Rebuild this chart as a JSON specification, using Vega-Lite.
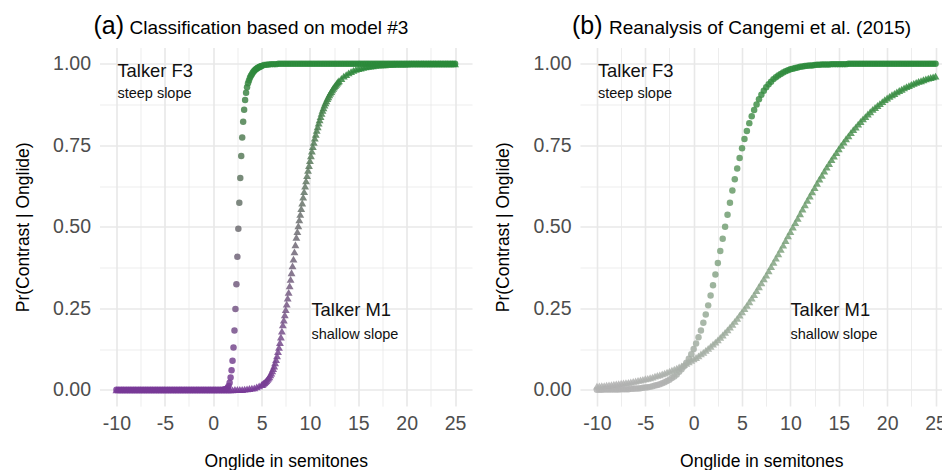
{
  "$schema": "https://vega.github.io/schema/vega-lite/v6.json",
  "background": "white",
  "padding": {"left": 13.5, "top": 13.5, "right": 0, "bottom": 0},
  "config": {
    "view": {"stroke": null},
    "font": "Liberation Sans",
    "title": {"anchor": "start", "frame": "group", "fontWeight": "normal", "color": "#000000"},
    "axis": {"domain": false, "ticks": false, "labelFontSize": 19.5, "labelColor": "#4d4d4d", "labelOverlap": false, "labelFlush": false, "titleFontSize": 17.5, "titleFontWeight": "normal", "titleColor": "#000000", "gridColor": "#e8e8e8"},
    "axisX": {"labelPadding": 8, "titlePadding": 20},
    "axisY": {"labelPadding": 9, "titlePadding": 20.5}
  },
  "data": {
    "values": "p,s,x,y\na,F3,-10,0\na,F3,-9.75,0\na,F3,-9.5,0\na,F3,-9.25,0\na,F3,-9,0\na,F3,-8.75,0\na,F3,-8.5,0\na,F3,-8.25,0\na,F3,-8,0\na,F3,-7.75,0\na,F3,-7.5,0\na,F3,-7.25,0\na,F3,-7,0\na,F3,-6.75,0\na,F3,-6.5,0\na,F3,-6.25,0\na,F3,-6,0\na,F3,-5.75,0\na,F3,-5.5,0\na,F3,-5.25,0\na,F3,-5,0\na,F3,-4.75,0\na,F3,-4.5,0\na,F3,-4.25,0\na,F3,-4,0\na,F3,-3.75,0\na,F3,-3.5,0\na,F3,-3.25,0\na,F3,-3,0\na,F3,-2.75,0\na,F3,-2.5,0\na,F3,-2.25,0\na,F3,-2,0\na,F3,-1.75,0\na,F3,-1.5,0\na,F3,-1.25,0\na,F3,-1,0\na,F3,-0.75,0\na,F3,-0.5,0\na,F3,-0.25,0\na,F3,0,0\na,F3,0.25,0\na,F3,0.5,0\na,F3,0.75,0\na,F3,1,0\na,F3,1.1,0\na,F3,1.2,0.001\na,F3,1.3,0.002\na,F3,1.4,0.003\na,F3,1.5,0.006\na,F3,1.6,0.012\na,F3,1.7,0.022\na,F3,1.8,0.038\na,F3,1.9,0.06\na,F3,2,0.089\na,F3,2.1,0.13\na,F3,2.2,0.182\na,F3,2.3,0.248\na,F3,2.4,0.324\na,F3,2.5,0.408\na,F3,2.6,0.494\na,F3,2.7,0.574\na,F3,2.8,0.65\na,F3,2.9,0.717\na,F3,3,0.774\na,F3,3.1,0.822\na,F3,3.2,0.859\na,F3,3.3,0.889\na,F3,3.4,0.911\na,F3,3.5,0.928\na,F3,3.6,0.94\na,F3,3.7,0.949\na,F3,3.8,0.957\na,F3,3.9,0.963\na,F3,4,0.968\na,F3,4.1,0.973\na,F3,4.2,0.977\na,F3,4.3,0.98\na,F3,4.4,0.983\na,F3,4.5,0.985\na,F3,4.6,0.988\na,F3,4.7,0.989\na,F3,4.8,0.991\na,F3,4.9,0.992\na,F3,5,0.993\na,F3,5.25,0.996\na,F3,5.5,0.997\na,F3,5.75,0.998\na,F3,6,0.999\na,F3,6.25,0.999\na,F3,6.5,0.999\na,F3,6.75,1\na,F3,7,1\na,F3,7.25,1\na,F3,7.5,1\na,F3,7.75,1\na,F3,8,1\na,F3,8.25,1\na,F3,8.5,1\na,F3,8.75,1\na,F3,9,1\na,F3,9.25,1\na,F3,9.5,1\na,F3,9.75,1\na,F3,10,1\na,F3,10.25,1\na,F3,10.5,1\na,F3,10.75,1\na,F3,11,1\na,F3,11.25,1\na,F3,11.5,1\na,F3,11.75,1\na,F3,12,1\na,F3,12.25,1\na,F3,12.5,1\na,F3,12.75,1\na,F3,13,1\na,F3,13.25,1\na,F3,13.5,1\na,F3,13.75,1\na,F3,14,1\na,F3,14.25,1\na,F3,14.5,1\na,F3,14.75,1\na,F3,15,1\na,F3,15.25,1\na,F3,15.5,1\na,F3,15.75,1\na,F3,16,1\na,F3,16.25,1\na,F3,16.5,1\na,F3,16.75,1\na,F3,17,1\na,F3,17.25,1\na,F3,17.5,1\na,F3,17.75,1\na,F3,18,1\na,F3,18.25,1\na,F3,18.5,1\na,F3,18.75,1\na,F3,19,1\na,F3,19.25,1\na,F3,19.5,1\na,F3,19.75,1\na,F3,20,1\na,F3,20.25,1\na,F3,20.5,1\na,F3,20.75,1\na,F3,21,1\na,F3,21.25,1\na,F3,21.5,1\na,F3,21.75,1\na,F3,22,1\na,F3,22.25,1\na,F3,22.5,1\na,F3,22.75,1\na,F3,23,1\na,F3,23.25,1\na,F3,23.5,1\na,F3,23.75,1\na,F3,24,1\na,F3,24.25,1\na,F3,24.5,1\na,F3,24.75,1\na,F3,25,1\na,M1,-10,0\na,M1,-9.75,0\na,M1,-9.5,0\na,M1,-9.25,0\na,M1,-9,0\na,M1,-8.75,0\na,M1,-8.5,0\na,M1,-8.25,0\na,M1,-8,0\na,M1,-7.75,0\na,M1,-7.5,0\na,M1,-7.25,0\na,M1,-7,0\na,M1,-6.75,0\na,M1,-6.5,0\na,M1,-6.25,0\na,M1,-6,0\na,M1,-5.75,0\na,M1,-5.5,0\na,M1,-5.25,0\na,M1,-5,0\na,M1,-4.75,0\na,M1,-4.5,0\na,M1,-4.25,0\na,M1,-4,0\na,M1,-3.75,0\na,M1,-3.5,0\na,M1,-3.25,0\na,M1,-3,0\na,M1,-2.75,0\na,M1,-2.5,0\na,M1,-2.25,0\na,M1,-2,0\na,M1,-1.75,0\na,M1,-1.5,0\na,M1,-1.25,0\na,M1,-1,0\na,M1,-0.75,0\na,M1,-0.5,0\na,M1,-0.25,0\na,M1,0,0\na,M1,0.25,0\na,M1,0.5,0\na,M1,0.75,0\na,M1,1,0\na,M1,1.25,0\na,M1,1.5,0\na,M1,1.75,0\na,M1,2,0\na,M1,2.25,0.001\na,M1,2.5,0.001\na,M1,2.75,0.001\na,M1,3,0.001\na,M1,3.25,0.002\na,M1,3.5,0.003\na,M1,3.75,0.004\na,M1,4,0.005\na,M1,4.25,0.006\na,M1,4.5,0.009\na,M1,4.75,0.012\na,M1,5,0.016\na,M1,5.1,0.017\na,M1,5.2,0.02\na,M1,5.3,0.022\na,M1,5.4,0.025\na,M1,5.5,0.028\na,M1,5.6,0.032\na,M1,5.7,0.036\na,M1,5.8,0.04\na,M1,5.9,0.046\na,M1,6,0.051\na,M1,6.1,0.058\na,M1,6.2,0.065\na,M1,6.3,0.073\na,M1,6.4,0.083\na,M1,6.5,0.093\na,M1,6.6,0.104\na,M1,6.7,0.117\na,M1,6.8,0.13\na,M1,6.9,0.145\na,M1,7,0.162\na,M1,7.1,0.18\na,M1,7.2,0.199\na,M1,7.3,0.214\na,M1,7.4,0.23\na,M1,7.5,0.246\na,M1,7.6,0.263\na,M1,7.7,0.281\na,M1,7.8,0.299\na,M1,7.9,0.319\na,M1,8,0.339\na,M1,8.1,0.359\na,M1,8.2,0.38\na,M1,8.3,0.401\na,M1,8.4,0.423\na,M1,8.5,0.445\na,M1,8.6,0.468\na,M1,8.7,0.485\na,M1,8.8,0.503\na,M1,8.9,0.521\na,M1,9,0.538\na,M1,9.1,0.556\na,M1,9.2,0.573\na,M1,9.3,0.591\na,M1,9.4,0.608\na,M1,9.5,0.625\na,M1,9.6,0.641\na,M1,9.7,0.657\na,M1,9.8,0.673\na,M1,9.9,0.688\na,M1,10,0.703\na,M1,10.1,0.718\na,M1,10.2,0.732\na,M1,10.3,0.746\na,M1,10.4,0.759\na,M1,10.5,0.772\na,M1,10.6,0.784\na,M1,10.7,0.796\na,M1,10.8,0.807\na,M1,10.9,0.818\na,M1,11,0.828\na,M1,11.1,0.838\na,M1,11.2,0.848\na,M1,11.3,0.857\na,M1,11.4,0.865\na,M1,11.5,0.873\na,M1,11.6,0.88\na,M1,11.7,0.886\na,M1,11.8,0.893\na,M1,11.9,0.899\na,M1,12,0.905\na,M1,12.1,0.91\na,M1,12.2,0.915\na,M1,12.3,0.92\na,M1,12.4,0.925\na,M1,12.5,0.929\na,M1,12.6,0.933\na,M1,12.7,0.937\na,M1,12.8,0.941\na,M1,12.9,0.945\na,M1,13,0.948\na,M1,13.25,0.955\na,M1,13.5,0.962\na,M1,13.75,0.967\na,M1,14,0.972\na,M1,14.25,0.976\na,M1,14.5,0.98\na,M1,14.75,0.983\na,M1,15,0.985\na,M1,15.25,0.987\na,M1,15.5,0.989\na,M1,15.75,0.991\na,M1,16,0.992\na,M1,16.25,0.993\na,M1,16.5,0.994\na,M1,16.75,0.995\na,M1,17,0.996\na,M1,17.25,0.997\na,M1,17.5,0.997\na,M1,17.75,0.997\na,M1,18,0.998\na,M1,18.25,0.998\na,M1,18.5,0.998\na,M1,18.75,0.999\na,M1,19,0.999\na,M1,19.25,0.999\na,M1,19.5,0.999\na,M1,19.75,0.999\na,M1,20,0.999\na,M1,20.25,1\na,M1,20.5,1\na,M1,20.75,1\na,M1,21,1\na,M1,21.25,1\na,M1,21.5,1\na,M1,21.75,1\na,M1,22,1\na,M1,22.25,1\na,M1,22.5,1\na,M1,22.75,1\na,M1,23,1\na,M1,23.25,1\na,M1,23.5,1\na,M1,23.75,1\na,M1,24,1\na,M1,24.25,1\na,M1,24.5,1\na,M1,24.75,1\na,M1,25,1\nb,F3,-10,0\nb,F3,-9.75,0\nb,F3,-9.5,0\nb,F3,-9.25,0.001\nb,F3,-9,0.001\nb,F3,-8.75,0.001\nb,F3,-8.5,0.001\nb,F3,-8.25,0.001\nb,F3,-8,0.001\nb,F3,-7.75,0.001\nb,F3,-7.5,0.002\nb,F3,-7.25,0.002\nb,F3,-7,0.002\nb,F3,-6.75,0.002\nb,F3,-6.5,0.003\nb,F3,-6.25,0.003\nb,F3,-6,0.004\nb,F3,-5.75,0.004\nb,F3,-5.5,0.005\nb,F3,-5.25,0.006\nb,F3,-5,0.007\nb,F3,-4.75,0.008\nb,F3,-4.5,0.009\nb,F3,-4.25,0.011\nb,F3,-4,0.013\nb,F3,-3.75,0.015\nb,F3,-3.5,0.017\nb,F3,-3.25,0.02\nb,F3,-3,0.023\nb,F3,-2.75,0.027\nb,F3,-2.5,0.031\nb,F3,-2.25,0.036\nb,F3,-2,0.041\nb,F3,-1.75,0.047\nb,F3,-1.5,0.055\nb,F3,-1.25,0.063\nb,F3,-1,0.072\nb,F3,-0.75,0.083\nb,F3,-0.5,0.095\nb,F3,-0.25,0.109\nb,F3,0,0.125\nb,F3,0.25,0.142\nb,F3,0.5,0.161\nb,F3,0.75,0.182\nb,F3,1,0.206\nb,F3,1.25,0.231\nb,F3,1.5,0.259\nb,F3,1.75,0.289\nb,F3,2,0.321\nb,F3,2.25,0.354\nb,F3,2.5,0.389\nb,F3,2.75,0.426\nb,F3,3,0.463\nb,F3,3.25,0.5\nb,F3,3.5,0.537\nb,F3,3.75,0.574\nb,F3,4,0.611\nb,F3,4.25,0.646\nb,F3,4.5,0.679\nb,F3,4.75,0.711\nb,F3,5,0.741\nb,F3,5.25,0.769\nb,F3,5.5,0.794\nb,F3,5.75,0.818\nb,F3,6,0.839\nb,F3,6.25,0.858\nb,F3,6.5,0.875\nb,F3,6.75,0.891\nb,F3,7,0.905\nb,F3,7.25,0.917\nb,F3,7.5,0.928\nb,F3,7.75,0.937\nb,F3,8,0.945\nb,F3,8.25,0.953\nb,F3,8.5,0.959\nb,F3,8.75,0.964\nb,F3,9,0.969\nb,F3,9.25,0.973\nb,F3,9.5,0.977\nb,F3,9.75,0.98\nb,F3,10,0.983\nb,F3,10.25,0.985\nb,F3,10.5,0.987\nb,F3,10.75,0.989\nb,F3,11,0.991\nb,F3,11.25,0.992\nb,F3,11.5,0.993\nb,F3,11.75,0.994\nb,F3,12,0.995\nb,F3,12.25,0.995\nb,F3,12.5,0.996\nb,F3,12.75,0.997\nb,F3,13,0.997\nb,F3,13.25,0.998\nb,F3,13.5,0.998\nb,F3,13.75,0.998\nb,F3,14,0.998\nb,F3,14.25,0.999\nb,F3,14.5,0.999\nb,F3,14.75,0.999\nb,F3,15,0.999\nb,F3,15.25,0.999\nb,F3,15.5,0.999\nb,F3,15.75,0.999\nb,F3,16,1\nb,F3,16.25,1\nb,F3,16.5,1\nb,F3,16.75,1\nb,F3,17,1\nb,F3,17.25,1\nb,F3,17.5,1\nb,F3,17.75,1\nb,F3,18,1\nb,F3,18.25,1\nb,F3,18.5,1\nb,F3,18.75,1\nb,F3,19,1\nb,F3,19.25,1\nb,F3,19.5,1\nb,F3,19.75,1\nb,F3,20,1\nb,F3,20.25,1\nb,F3,20.5,1\nb,F3,20.75,1\nb,F3,21,1\nb,F3,21.25,1\nb,F3,21.5,1\nb,F3,21.75,1\nb,F3,22,1\nb,F3,22.25,1\nb,F3,22.5,1\nb,F3,22.75,1\nb,F3,23,1\nb,F3,23.25,1\nb,F3,23.5,1\nb,F3,23.75,1\nb,F3,24,1\nb,F3,24.25,1\nb,F3,24.5,1\nb,F3,24.75,1\nb,F3,25,1\nb,M1,-10,0.011\nb,M1,-9.75,0.012\nb,M1,-9.5,0.013\nb,M1,-9.25,0.013\nb,M1,-9,0.014\nb,M1,-8.75,0.015\nb,M1,-8.5,0.016\nb,M1,-8.25,0.017\nb,M1,-8,0.018\nb,M1,-7.75,0.019\nb,M1,-7.5,0.02\nb,M1,-7.25,0.021\nb,M1,-7,0.022\nb,M1,-6.75,0.023\nb,M1,-6.5,0.024\nb,M1,-6.25,0.026\nb,M1,-6,0.027\nb,M1,-5.75,0.029\nb,M1,-5.5,0.03\nb,M1,-5.25,0.032\nb,M1,-5,0.034\nb,M1,-4.75,0.035\nb,M1,-4.5,0.037\nb,M1,-4.25,0.039\nb,M1,-4,0.042\nb,M1,-3.75,0.044\nb,M1,-3.5,0.046\nb,M1,-3.25,0.049\nb,M1,-3,0.051\nb,M1,-2.75,0.054\nb,M1,-2.5,0.057\nb,M1,-2.25,0.06\nb,M1,-2,0.063\nb,M1,-1.75,0.066\nb,M1,-1.5,0.07\nb,M1,-1.25,0.073\nb,M1,-1,0.077\nb,M1,-0.75,0.081\nb,M1,-0.5,0.086\nb,M1,-0.25,0.09\nb,M1,0,0.095\nb,M1,0.25,0.099\nb,M1,0.5,0.104\nb,M1,0.75,0.11\nb,M1,1,0.115\nb,M1,1.25,0.121\nb,M1,1.5,0.127\nb,M1,1.75,0.133\nb,M1,2,0.14\nb,M1,2.25,0.146\nb,M1,2.5,0.153\nb,M1,2.75,0.161\nb,M1,3,0.168\nb,M1,3.25,0.176\nb,M1,3.5,0.184\nb,M1,3.75,0.192\nb,M1,4,0.201\nb,M1,4.25,0.21\nb,M1,4.5,0.219\nb,M1,4.75,0.229\nb,M1,5,0.239\nb,M1,5.25,0.249\nb,M1,5.5,0.259\nb,M1,5.75,0.27\nb,M1,6,0.281\nb,M1,6.25,0.292\nb,M1,6.5,0.304\nb,M1,6.75,0.316\nb,M1,7,0.328\nb,M1,7.25,0.34\nb,M1,7.5,0.352\nb,M1,7.75,0.365\nb,M1,8,0.378\nb,M1,8.25,0.391\nb,M1,8.5,0.404\nb,M1,8.75,0.417\nb,M1,9,0.431\nb,M1,9.25,0.444\nb,M1,9.5,0.458\nb,M1,9.75,0.472\nb,M1,10,0.485\nb,M1,10.25,0.499\nb,M1,10.5,0.513\nb,M1,10.75,0.526\nb,M1,11,0.54\nb,M1,11.25,0.554\nb,M1,11.5,0.567\nb,M1,11.75,0.581\nb,M1,12,0.594\nb,M1,12.25,0.607\nb,M1,12.5,0.62\nb,M1,12.75,0.633\nb,M1,13,0.646\nb,M1,13.25,0.658\nb,M1,13.5,0.671\nb,M1,13.75,0.683\nb,M1,14,0.694\nb,M1,14.25,0.706\nb,M1,14.5,0.717\nb,M1,14.75,0.728\nb,M1,15,0.739\nb,M1,15.25,0.75\nb,M1,15.5,0.76\nb,M1,15.75,0.77\nb,M1,16,0.779\nb,M1,16.25,0.789\nb,M1,16.5,0.798\nb,M1,16.75,0.806\nb,M1,17,0.815\nb,M1,17.25,0.823\nb,M1,17.5,0.831\nb,M1,17.75,0.838\nb,M1,18,0.846\nb,M1,18.25,0.853\nb,M1,18.5,0.86\nb,M1,18.75,0.866\nb,M1,19,0.872\nb,M1,19.25,0.878\nb,M1,19.5,0.884\nb,M1,19.75,0.89\nb,M1,20,0.895\nb,M1,20.25,0.9\nb,M1,20.5,0.905\nb,M1,20.75,0.909\nb,M1,21,0.914\nb,M1,21.25,0.918\nb,M1,21.5,0.922\nb,M1,21.75,0.926\nb,M1,22,0.93\nb,M1,22.25,0.933\nb,M1,22.5,0.937\nb,M1,22.75,0.94\nb,M1,23,0.943\nb,M1,23.25,0.946\nb,M1,23.5,0.948\nb,M1,23.75,0.951\nb,M1,24,0.954\nb,M1,24.25,0.956\nb,M1,24.5,0.958\nb,M1,24.75,0.96\nb,M1,25,0.962",
    "format": {"type": "csv", "parse": {"x": "number", "y": "number"}}
  },
  "spacing": 21.5,
  "hconcat": [
    {
      "title": {"text": "(a)", "fontSize": 25, "offset": -20.25, "dx": -6},
      "vconcat": [
        {
          "width": 372.5,
          "height": 358.6,
          "title": {"text": "Classification based on model #3", "fontSize": 19, "offset": 9.4, "dx": 30},
          "encoding": {
            "x": {"field": "x", "type": "quantitative", "scale": {"domain": [-11.75, 26.75], "nice": false, "zero": false},
              "axis": {"title": "Onglide in semitones", "values": [-10, -7.5, -5, -2.5, 0, 2.5, 5, 7.5, 10, 12.5, 15, 17.5, 20, 22.5, 25],
                "labelExpr": "datum.value % 5 === 0 ? toString(datum.value) : ''",
                "gridWidth": {"condition": {"test": "datum.value % 5 === 0", "value": 1.6}, "value": 0.8}}},
            "y": {"field": "y", "type": "quantitative", "scale": {"domain": [-0.05, 1.05], "nice": false, "zero": false},
              "axis": {"title": "Pr(Contrast | Onglide)", "values": [0, 0.125, 0.25, 0.375, 0.5, 0.625, 0.75, 0.875, 1],
                "labelExpr": "(datum.value * 8) % 2 === 0 ? format(datum.value, '.2f') : ''",
                "gridWidth": {"condition": {"test": "(datum.value * 8) % 2 === 0", "value": 1.6}, "value": 0.8}}}
          },
          "layer": [
            {
              "transform": [{"filter": "datum.p === 'a'"}],
              "mark": {"type": "point", "filled": true, "opacity": 0.85, "strokeWidth": 0},
              "encoding": {
                "color": {"field": "y", "type": "quantitative", "legend": null,
                  "scale": {"domain": [0, 0.5, 1], "range": ["#783a96", "#6e6e72", "#2a8a3a"], "interpolate": "lab"}},
                "shape": {"field": "s", "type": "nominal", "legend": null,
                  "scale": {"domain": ["F3", "M1"], "range": ["circle", "triangle-up"]}},
                "size": {"field": "s", "type": "nominal", "legend": null,
                  "scale": {"domain": ["F3", "M1"], "range": [42, 62]}}
              }
            },
            {
              "data": {"values": [
                {"p": "a", "x": -9.9, "y": 0.958, "t": "Talker F3"},
                {"p": "a", "x": 10.15, "y": 0.227, "t": "Talker M1"}
              ]},
              "mark": {"type": "text", "align": "left", "baseline": "alphabetic", "fontSize": 18.4, "color": "#111111"},
              "encoding": {"text": {"field": "t"}}
            },
            {
              "data": {"values": [
                {"p": "a", "x": -9.9, "y": 0.895, "t": "steep slope"},
                {"p": "a", "x": 10.15, "y": 0.157, "t": "shallow slope"}
              ]},
              "mark": {"type": "text", "align": "left", "baseline": "alphabetic", "fontSize": 14.5, "color": "#111111"},
              "encoding": {"text": {"field": "t"}}
            }
          ]
        }
      ]
    },
    {
      "title": {"text": "(b)", "fontSize": 25, "offset": -20.25, "dx": -8},
      "vconcat": [
        {
          "width": 362.5,
          "height": 358.6,
          "title": {"text": "Reanalysis of Cangemi et al. (2015)", "fontSize": 19, "offset": 9.4, "dx": 29},
          "encoding": {
            "x": {"field": "x", "type": "quantitative", "scale": {"domain": [-11.75, 25.72], "nice": false, "zero": false},
              "axis": {"title": "Onglide in semitones", "values": [-10, -7.5, -5, -2.5, 0, 2.5, 5, 7.5, 10, 12.5, 15, 17.5, 20, 22.5, 25],
                "labelExpr": "datum.value % 5 === 0 ? toString(datum.value) : ''",
                "gridWidth": {"condition": {"test": "datum.value % 5 === 0", "value": 1.6}, "value": 0.8}}},
            "y": {"field": "y", "type": "quantitative", "scale": {"domain": [-0.05, 1.05], "nice": false, "zero": false},
              "axis": {"title": "Pr(Contrast | Onglide)", "values": [0, 0.125, 0.25, 0.375, 0.5, 0.625, 0.75, 0.875, 1],
                "labelExpr": "(datum.value * 8) % 2 === 0 ? format(datum.value, '.2f') : ''",
                "gridWidth": {"condition": {"test": "(datum.value * 8) % 2 === 0", "value": 1.6}, "value": 0.8}}}
          },
          "layer": [
            {
              "transform": [{"filter": "datum.p === 'b'"}],
              "mark": {"type": "point", "filled": true, "opacity": 0.85, "strokeWidth": 0},
              "encoding": {
                "color": {"field": "y", "type": "quantitative", "legend": null,
                  "scale": {"domain": [0, 1], "range": ["#b3b3b3", "#2a8a3a"], "interpolate": "lab"}},
                "shape": {"field": "s", "type": "nominal", "legend": null,
                  "scale": {"domain": ["F3", "M1"], "range": ["circle", "triangle-up"]}},
                "size": {"field": "s", "type": "nominal", "legend": null,
                  "scale": {"domain": ["F3", "M1"], "range": [42, 62]}}
              }
            },
            {
              "data": {"values": [
                {"p": "b", "x": -9.9, "y": 0.958, "t": "Talker F3"},
                {"p": "b", "x": 10.0, "y": 0.227, "t": "Talker M1"}
              ]},
              "mark": {"type": "text", "align": "left", "baseline": "alphabetic", "fontSize": 18.4, "color": "#111111"},
              "encoding": {"text": {"field": "t"}}
            },
            {
              "data": {"values": [
                {"p": "b", "x": -9.9, "y": 0.895, "t": "steep slope"},
                {"p": "b", "x": 10.0, "y": 0.157, "t": "shallow slope"}
              ]},
              "mark": {"type": "text", "align": "left", "baseline": "alphabetic", "fontSize": 14.5, "color": "#111111"},
              "encoding": {"text": {"field": "t"}}
            }
          ]
        }
      ]
    }
  ],
  "resolve": {"scale": {"color": "independent", "shape": "independent", "size": "independent", "x": "independent", "y": "independent"}}
}
